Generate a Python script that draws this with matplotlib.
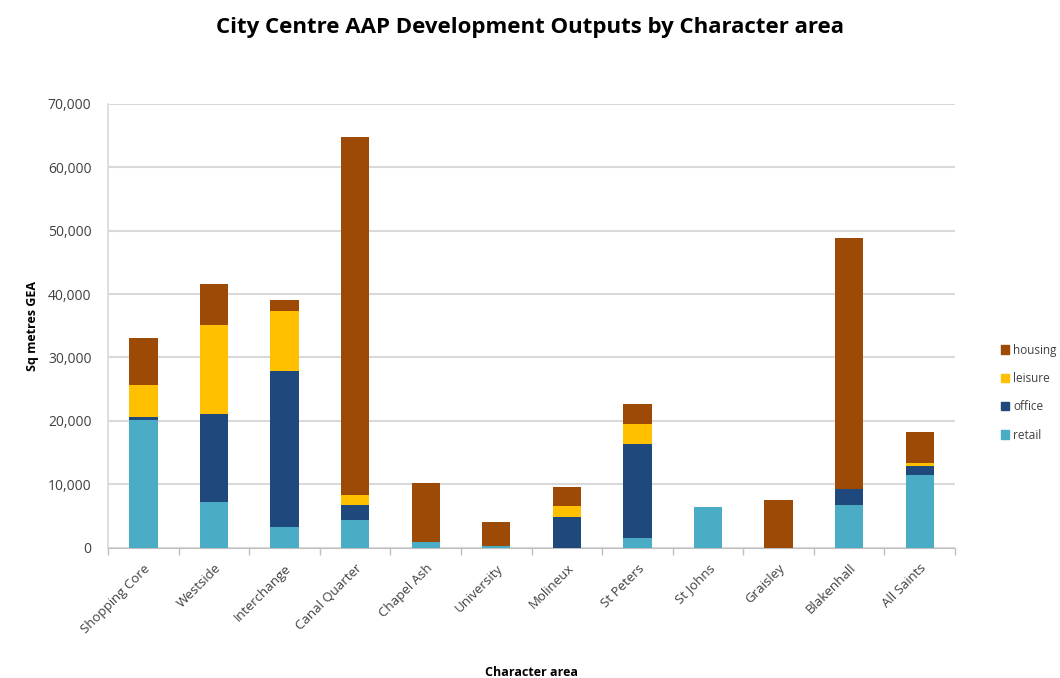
import matplotlib
matplotlib.use("Agg")
import matplotlib.pyplot as plt
from matplotlib.ticker import FuncFormatter, FixedLocator
from matplotlib.patches import Patch
import numpy as np

plt.rcParams['font.family'] = ['Open Sans', 'DejaVu Sans']

categories = ["Shopping Core", "Westside", "Interchange", "Canal Quarter", "Chapel Ash",
              "University", "Molineux", "St Peters", "St Johns", "Graisley", "Blakenhall", "All Saints"]
retail  = [20200, 7300, 3300, 4400, 900, 300, 0, 1600, 6400, 0, 6800, 11500]
office  = [400, 13800, 24500, 2400, 0, 0, 4900, 14700, 0, 0, 2400, 1400]
leisure = [5000, 14100, 9500, 1500, 0, 0, 1700, 3200, 0, 0, 0, 500]
housing = [7500, 6400, 1800, 56400, 9300, 3700, 3000, 3200, 0, 7500, 39700, 4900]

series = [("retail", retail, "#4BACC6"), ("office", office, "#1F497D"),
          ("leisure", leisure, "#FFC000"), ("housing", housing, "#9C4A06")]

fig = plt.figure(figsize=(10.6, 6.78), dpi=100)
ax = fig.add_axes([0.102, 0.192, 0.799, 0.655])

x = np.arange(len(categories))
bottom = np.zeros(len(categories))
for name, vals, col in series:
    v = np.array(vals, dtype=float)
    ax.bar(x, v, 0.4, bottom=bottom, color=col, label=name, zorder=3)
    bottom += v

ax.set_xlim(-0.5, len(categories) - 0.5)
ax.set_ylim(0, 70000)
ax.set_yticks(np.arange(0, 70001, 10000))
ax.yaxis.set_major_formatter(FuncFormatter(lambda v, p: f"{int(v):,}"))
ax.grid(axis='y', color='#D9D9D9', linewidth=1.5, zorder=0)
ax.set_axisbelow(True)

ax.set_xticks(x)
ax.set_xticklabels(categories, rotation=45, ha='right', rotation_mode='anchor',
                   fontsize=9.5, color='#404040')
ax.xaxis.set_minor_locator(FixedLocator(np.arange(-0.5, len(categories), 1.0)))
ax.tick_params(axis='x', which='major', length=0, pad=10)
ax.tick_params(axis='x', which='minor', length=5, color='#BFBFBF', width=1)
ax.tick_params(axis='y', length=0, labelsize=10, colors='#404040', pad=12)

for s in ['top', 'right']:
    ax.spines[s].set_visible(False)
ax.spines['left'].set_color('#D9D9D9')
ax.spines['bottom'].set_color('#BFBFBF')
ax.spines['left'].set_linewidth(1.2)

ax.set_ylabel("Sq metres GEA", fontsize=9, fontweight='bold', labelpad=6)
ax.set_xlabel("Character area", fontsize=9, fontweight='bold', labelpad=22)
fig.suptitle("City Centre AAP Development Outputs by Character area",
             fontsize=16, fontweight='bold', y=0.975)

handles = [Patch(color=c, label=n) for n, _, c in reversed(series)]
fig.legend(handles=handles, loc='center left', bbox_to_anchor=(0.944, 0.421),
           frameon=False, fontsize=8.5, handlelength=0.7, handleheight=0.7,
           labelspacing=1.3, handletextpad=0.35, borderpad=0, borderaxespad=0,
           labelcolor='#404040')

fig.savefig("out.png", dpi=100)
